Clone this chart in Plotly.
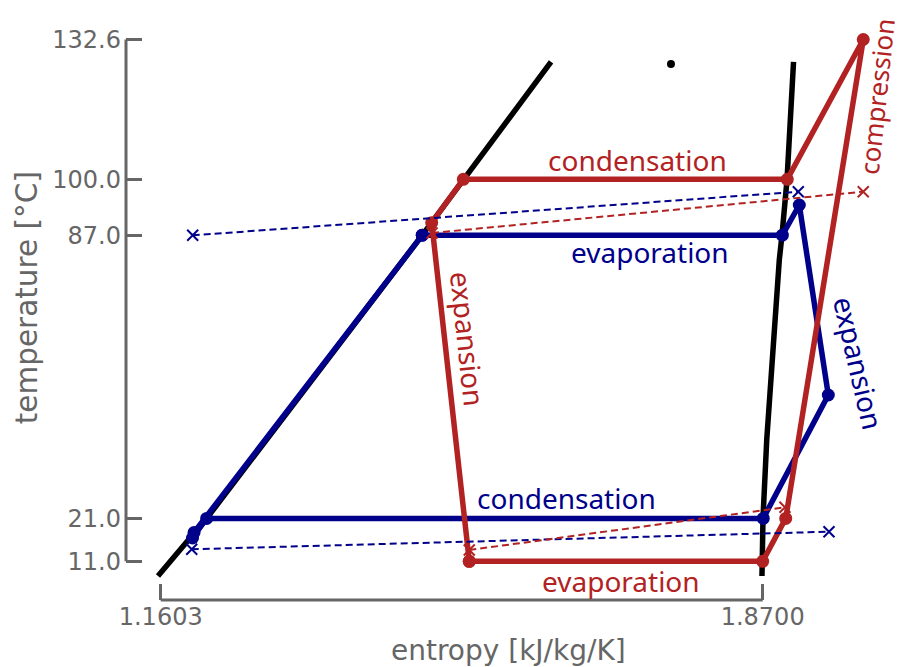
import plotly.graph_objects as go

# Saturation dome of the working fluid (entropy in kJ/kg/K, temperature in °C)
sat_liq_s = [1.1571, 1.2145, 1.4687, 1.5171, 1.6205]
sat_liq_T = [7.57, 21.0, 87.0, 100.0, 127.36]
sat_vap_s = [1.8692, 1.8704, 1.8748, 1.8837, 1.8896, 1.8928, 1.8987, 1.9064]
sat_vap_T = [7.57, 21.09, 39.27, 65.67, 81.21, 87.04, 99.86, 127.36]
crit_s = [1.7619]
crit_T = [126.89]

# Heat pump cycle (red)
hp_s = [1.5241, 1.8700, 1.8972, 1.9886, 1.8990, 1.5171, 1.4798, 1.5241]
hp_T = [11.0, 11.0, 21.0, 132.6, 100.0, 100.0, 89.91, 11.0]

# Organic Rankine cycle (blue)
orc_s = [1.4687, 1.8932, 1.9132, 1.9474, 1.8707, 1.2145, 1.1978, 1.1996, 1.4687]
orc_T = [87.0, 87.0, 94.03, 49.75, 21.0, 21.0, 16.43, 17.71, 87.0]

# Secondary streams (dashed)
hp_hot_s = [1.4802, 1.9886]
hp_hot_T = [87.51, 97.13]
hp_cold_s = [1.5241, 1.8963]
hp_cold_T = [13.63, 23.58]
orc_hot_s = [1.1980, 1.9120]
orc_hot_T = [86.97, 97.13]
orc_cold_s = [1.1969, 1.9482]
orc_cold_T = [13.8, 17.9]

x_ticks = [1.1603, 1.8700]
x_tick_text = ["1.1603", "1.8700"]
y_ticks = [11.0, 21.0, 87.0, 100.0, 132.6]
y_tick_text = ["11.0", "21.0", "87.0", "100.0", "132.6"]

RED = "#b22222"
BLUE = "#00008b"
GRAY = "#666666"
TICK_FONT = "DejaVu Sans"
LABEL_FONT = "Noto Sans"

fig = go.Figure()

for s, T in [(sat_liq_s, sat_liq_T), (sat_vap_s, sat_vap_T)]:
    fig.add_trace(go.Scatter(x=s, y=T, mode="lines",
                             line=dict(color="black", width=5.5)))
fig.add_trace(go.Scatter(x=crit_s, y=crit_T, mode="markers",
                         marker=dict(color="black", size=8)))

fig.add_trace(go.Scatter(x=orc_s, y=orc_T, mode="lines+markers",
                         line=dict(color=BLUE, width=5.5),
                         marker=dict(color=BLUE, size=13)))
fig.add_trace(go.Scatter(x=hp_s, y=hp_T, mode="lines+markers",
                         line=dict(color=RED, width=5.5),
                         marker=dict(color=RED, size=13)))

for s, T, c in [(orc_hot_s, orc_hot_T, BLUE), (orc_cold_s, orc_cold_T, BLUE),
                (hp_hot_s, hp_hot_T, RED), (hp_cold_s, hp_cold_T, RED)]:
    fig.add_trace(go.Scatter(x=s, y=T, mode="lines+markers",
                             line=dict(color=c, width=2, dash="7px,4px"),
                             marker=dict(symbol="x-thin", size=11,
                                         line=dict(color=c, width=2))))

# Process labels: (text, s, T, angle, colour, size)
labels = [
    ("condensation", 1.7230, 104.6, 0, RED, 28),
    ("evaporation", 1.7030, 6.3, 0, RED, 28),
    ("expansion", 1.5224, 62.8, 84, RED, 28),
    ("compression", 2.0040, 119.3, -84, RED, 26),
    ("evaporation", 1.7372, 83.1, 0, BLUE, 28),
    ("condensation", 1.6393, 25.8, 0, BLUE, 28),
    ("expansion", 1.9830, 57.2, 77, BLUE, 28),
]
for text, s, T, ang, c, sz in labels:
    fig.add_annotation(x=s, y=T, text=text, textangle=ang, showarrow=False,
                       xanchor="center", yanchor="middle",
                       font=dict(family=LABEL_FONT, size=sz, color=c))

# Axis titles
fig.add_annotation(xref="paper", yref="paper", x=0.4937, y=-0.085,
                   text="entropy [kJ/kg/K]", showarrow=False,
                   xanchor="center", yanchor="middle",
                   font=dict(family=TICK_FONT, size=28, color=GRAY))
fig.add_annotation(xref="paper", yref="paper", x=-0.128, y=0.513,
                   text="temperature [°C]", textangle=-90, showarrow=False,
                   xanchor="center", yanchor="middle",
                   font=dict(family=TICK_FONT, size=29.5, color=GRAY))

# Bounded spines spanning the tick range only
fig.add_shape(type="line", xref="paper", yref="y", x0=0, x1=0,
              y0=y_ticks[0], y1=y_ticks[-1], line=dict(color=GRAY, width=3))
fig.add_shape(type="line", xref="x", yref="paper", x0=x_ticks[0], x1=x_ticks[-1],
              y0=0, y1=0, line=dict(color=GRAY, width=3))

fig.update_layout(
    width=900, height=667,
    margin=dict(l=126, r=0, t=10, b=67),
    paper_bgcolor="white", plot_bgcolor="white",
    showlegend=False,
    xaxis=dict(range=[1.11939, 2.03192], tickvals=x_ticks, ticktext=x_tick_text,
               ticks="inside", ticklen=16, tickwidth=3, tickcolor=GRAY,
               showgrid=False, zeroline=False, showline=False,
               tickfont=dict(family=TICK_FONT, size=24, color=GRAY)),
    yaxis=dict(range=[1.98, 139.47], tickvals=y_ticks, ticktext=y_tick_text,
               ticks="inside", ticklen=16, tickwidth=3, tickcolor=GRAY,
               ticklabelstandoff=4,
               showgrid=False, zeroline=False, showline=False,
               tickfont=dict(family=TICK_FONT, size=24, color=GRAY)),
)

fig.write_html("out.html")
